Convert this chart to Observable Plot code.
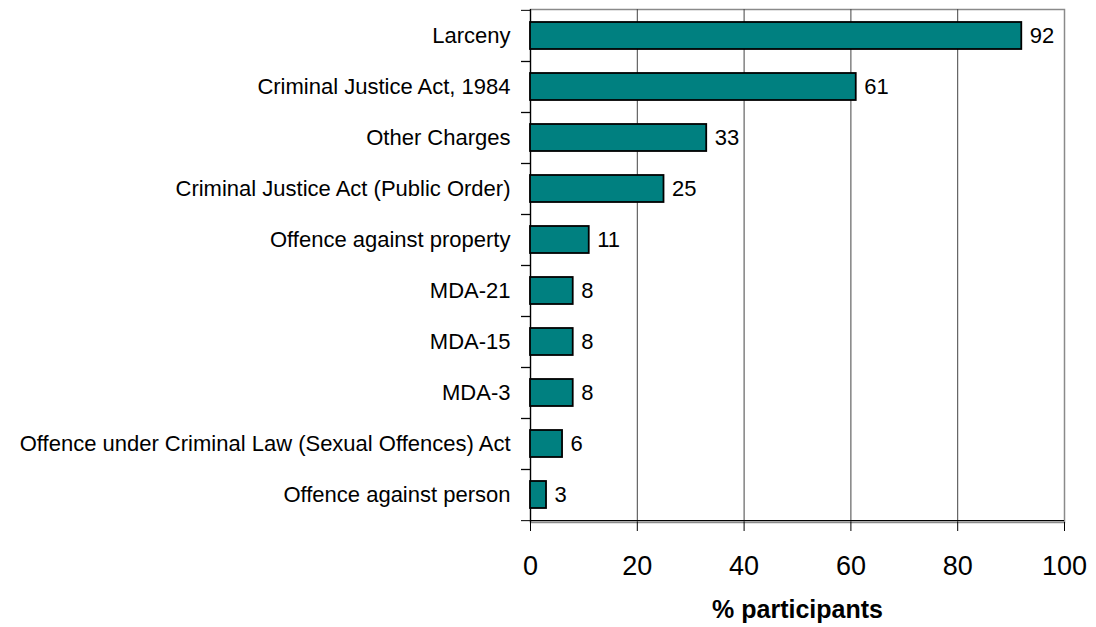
<!DOCTYPE html>
<html>
<head>
<meta charset="utf-8">
<script src="https://cdn.jsdelivr.net/npm/d3@7"></script>
<script src="https://cdn.jsdelivr.net/npm/@observablehq/plot@0.6"></script>
<style>
  html, body { margin: 0; padding: 0; background: #fff; }
  #chart svg { display: block; font-family: "Liberation Sans", Arial, sans-serif; }
</style>
</head>
<body>
<div id="chart"></div>
<script>
const categories = [
  "Larceny",
  "Criminal Justice Act, 1984",
  "Other Charges",
  "Criminal Justice Act (Public Order)",
  "Offence against property",
  "MDA-21",
  "MDA-15",
  "MDA-3",
  "Offence under Criminal Law (Sexual Offences) Act",
  "Offence against person"
];
const values = [92, 61, 33, 25, 11, 8, 8, 8, 6, 3];
const xTicks = [0, 20, 40, 60, 80, 100];
const gridTicks = [20, 40, 60, 80];
const xLabel = "% participants";

const data = categories.map((c, i) => ({category: c, value: values[i]}));

const W = 1096, H = 627;
const mTop = 9, mBottom = 105, mLeft = 530, mRight = 32;
const half = (H - mTop - mBottom) / categories.length / 2;

const chart = Plot.plot({
  width: W,
  height: H,
  marginTop: mTop,
  marginBottom: mBottom,
  marginLeft: mLeft,
  marginRight: mRight,
  style: {fontFamily: "'Liberation Sans', Arial, sans-serif", color: "#000", background: "#fff"},
  x: {domain: [0, 100], ticks: xTicks},
  y: {domain: categories, paddingInner: 0.47, paddingOuter: 0.235, align: 0.5},
  marks: [
    Plot.frame({stroke: "#8a8a8a", strokeWidth: 1.5}),
    Plot.ruleX(gridTicks, {stroke: "#444", strokeWidth: 1}),
    Plot.ruleX([0], {stroke: "#000", strokeWidth: 1.2}),
    Plot.ruleY([categories[categories.length - 1]], {dy: half, stroke: "#000", strokeWidth: 1.2}),
    Plot.axisY({tickSize: 9, tickFormat: () => "", dy: -half, stroke: "#000", label: null}),
    Plot.axisY({tickSize: 9, tickFormat: () => "", dy: half, stroke: "#000", label: null}),
    Plot.axisY({tickSize: 0, tickPadding: 20, fontSize: 22, label: null}),
    Plot.axisX({ticks: xTicks, tickSize: 9, tickPadding: 24, fontSize: 27, label: null}),
    Plot.barX(data, {x: "value", y: "category", fill: "#008080", stroke: "#000", strokeWidth: 1.8}),
    Plot.text(data, {x: "value", y: "category", text: d => String(d.value), dx: 8, textAnchor: "start", fontSize: 22, fill: "#000"}),
    Plot.text([xLabel], {frameAnchor: "bottom", dy: 95, fontSize: 25, fontWeight: "bold", fill: "#000"})
  ]
});
document.getElementById("chart").appendChild(chart);
</script>
</body>
</html>
